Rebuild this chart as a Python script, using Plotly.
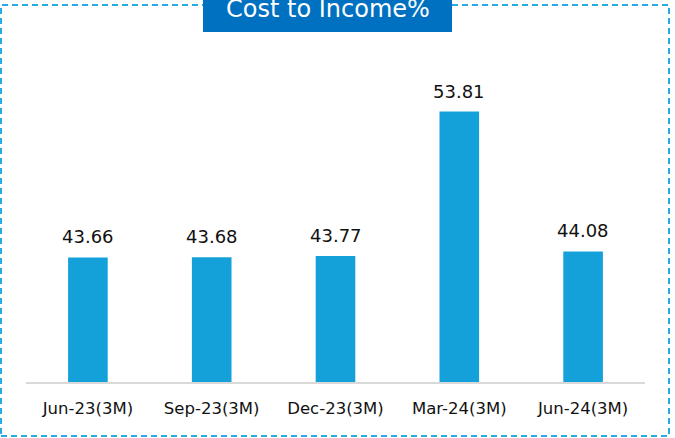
import plotly.graph_objects as go

categories = ["Jun-23(3M)", "Sep-23(3M)", "Dec-23(3M)", "Mar-24(3M)", "Jun-24(3M)"]
values = [43.66, 43.68, 43.77, 53.81, 44.08]
title_text = "Cost to Income%"

W, H = 675, 438
L, R, T, B = 26, 30, 40, 56
PW, PH = W - L - R, H - T - B

def px_x(x):
    return (x - L) / PW

def px_y(y):
    return 1 - (y - T) / PH

ymin = 35.0
ymax = ymin + PH / 14.38

bar_color = "#14A1DA"
font_fam = "DejaVu Sans, Verdana, sans-serif"

fig = go.Figure()
fig.add_trace(go.Bar(
    x=categories, y=values, marker_color=bar_color, marker_line_width=0,
    hoverinfo="skip",
))

for c, v in zip(categories, values):
    fig.add_annotation(x=c, y=v, xref="x", yref="y", text=f"{v:.2f}",
                       showarrow=False, yanchor="bottom", yshift=8,
                       font=dict(size=18, color="#111111", family=font_fam))

# dashed frame
fig.add_shape(type="rect", xref="paper", yref="paper",
              x0=px_x(1), x1=px_x(669), y0=px_y(436), y1=px_y(5),
              line=dict(color="#29ABE2", width=2, dash="6px,4px"),
              fillcolor="rgba(0,0,0,0)", layer="below")
# title box
fig.add_shape(type="rect", xref="paper", yref="paper",
              x0=px_x(203), x1=px_x(452), y0=px_y(32), y1=px_y(-5),
              line=dict(width=0), fillcolor="#0070C0", layer="above")
fig.add_annotation(xref="paper", yref="paper", x=px_x(327.5), y=px_y(9),
                   text=title_text, showarrow=False, yanchor="middle", xanchor="center",
                   font=dict(size=24, color="white", family=font_fam))

fig.update_layout(
    width=W, height=H,
    margin=dict(l=L, r=R, t=T, b=B),
    paper_bgcolor="white", plot_bgcolor="white",
    bargap=0.68, showlegend=False,
    font=dict(family=font_fam),
)
fig.update_xaxes(showline=True, linecolor="#D9D9D9", linewidth=2,
                 ticks="outside", ticklen=10, tickcolor="rgba(0,0,0,0)",
                 tickfont=dict(size=16.5, color="#111111", family=font_fam),
                 showgrid=False, fixedrange=True)
fig.update_yaxes(range=[ymin, ymax], visible=False, showgrid=False, fixedrange=True)

fig.write_html("out.html", config={"displayModeBar": False},
               post_script="document.body.style.margin='0';document.body.style.overflow='hidden';")
